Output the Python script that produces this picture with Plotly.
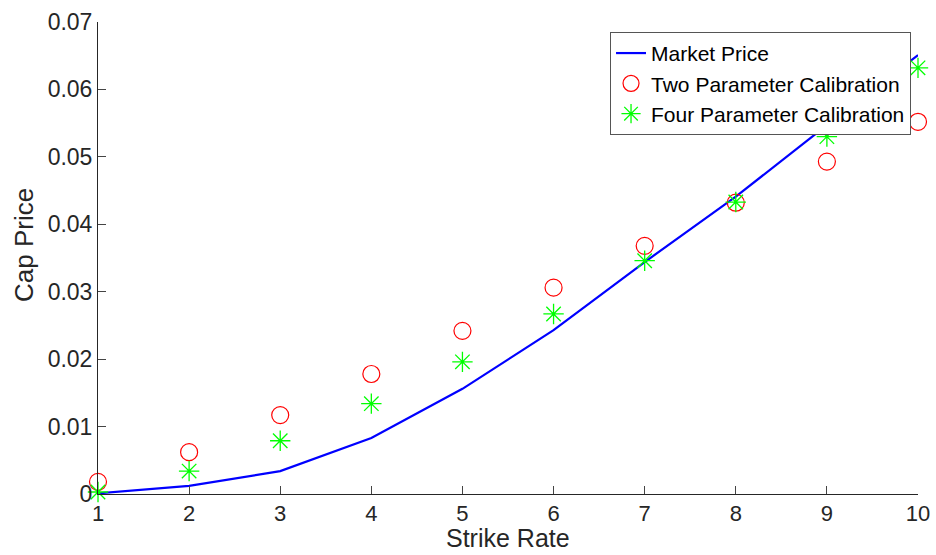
import plotly.graph_objects as go

strike = [1, 2, 3, 4, 5, 6, 7, 8, 9, 10]
market_price = [0.0001, 0.0012, 0.0034, 0.0083, 0.0156, 0.0243, 0.0344, 0.0441, 0.0547, 0.0651]
two_param = [0.0018, 0.0062, 0.0117, 0.0178, 0.0242, 0.0306, 0.0368, 0.0432, 0.0493, 0.0552]
four_param = [0.0003, 0.0034, 0.0079, 0.0134, 0.0196, 0.0267, 0.0346, 0.0433, 0.0530, 0.0632]

y_tickvals = [0, 0.01, 0.02, 0.03, 0.04, 0.05, 0.06, 0.07]
y_ticktext = ["0", "0.01", "0.02", "0.03", "0.04", "0.05", "0.06", "0.07"]
x_tickvals = [1, 2, 3, 4, 5, 6, 7, 8, 9, 10]

font_family = "Liberation Sans, Arial, Helvetica, sans-serif"
axis_color = "#262626"

fig = go.Figure()
fig.add_trace(go.Scatter(x=strike, y=market_price, mode="lines", name="Market Price",
                         line=dict(color="#0000ff", width=2.2), cliponaxis=False))
fig.add_trace(go.Scatter(x=strike, y=two_param, mode="markers", name="Two Parameter Calibration",
                         marker=dict(symbol="circle-open", size=17, color="#ff0000",
                                     line=dict(width=1.2, color="#ff0000")), cliponaxis=False))
fig.add_trace(go.Scatter(x=strike, y=four_param, mode="markers", name="Four Parameter Calibration",
                         marker=dict(symbol="asterisk-open", size=17, color="#00ff00",
                                     line=dict(width=1.3, color="#00ff00")), cliponaxis=False))

fig.update_layout(
    width=936, height=555,
    margin=dict(l=98, r=18, t=22, b=61),
    paper_bgcolor="white", plot_bgcolor="white",
    font=dict(family=font_family, size=23, color=axis_color),
    showlegend=True,
    legend=dict(x=0.9915, y=0.979, xanchor="right", yanchor="top",
                bgcolor="white", bordercolor="#555555", borderwidth=1,
                font=dict(size=21, color="black"), tracegroupgap=0,
                itemwidth=30),
    annotations=[
        dict(text="Cap Price", xref="paper", yref="paper", x=0, y=0.5275,
             xshift=-74, xanchor="center", yanchor="middle", textangle=-90,
             showarrow=False, font=dict(size=26, color=axis_color)),
        dict(text="Strike Rate", xref="paper", yref="paper", x=0.5, y=0,
             yshift=-44, xanchor="center", yanchor="middle", borderpad=0,
             showarrow=False, font=dict(size=25, color=axis_color)),
    ],
)
fig.update_xaxes(range=[1, 10], tickvals=x_tickvals, ticks="inside", ticklen=8,
                 showline=True, linecolor=axis_color, linewidth=1, showgrid=False, zeroline=False,
                 automargin=False,
                 tickfont=dict(size=22, color=axis_color))
fig.update_yaxes(range=[0, 0.07], tickvals=y_tickvals, ticktext=y_ticktext, ticks="inside", ticklen=8,
                 showline=True, linecolor=axis_color, linewidth=1, showgrid=False, zeroline=False,
                 automargin=False,
                 tickfont=dict(size=23, color=axis_color))

# remove the default 8px page margin so the figure sits at the window's corner
fig.write_html("out.html", config={"displayModeBar": False},
               post_script="document.body.style.margin='0';document.body.style.overflow='hidden';")
